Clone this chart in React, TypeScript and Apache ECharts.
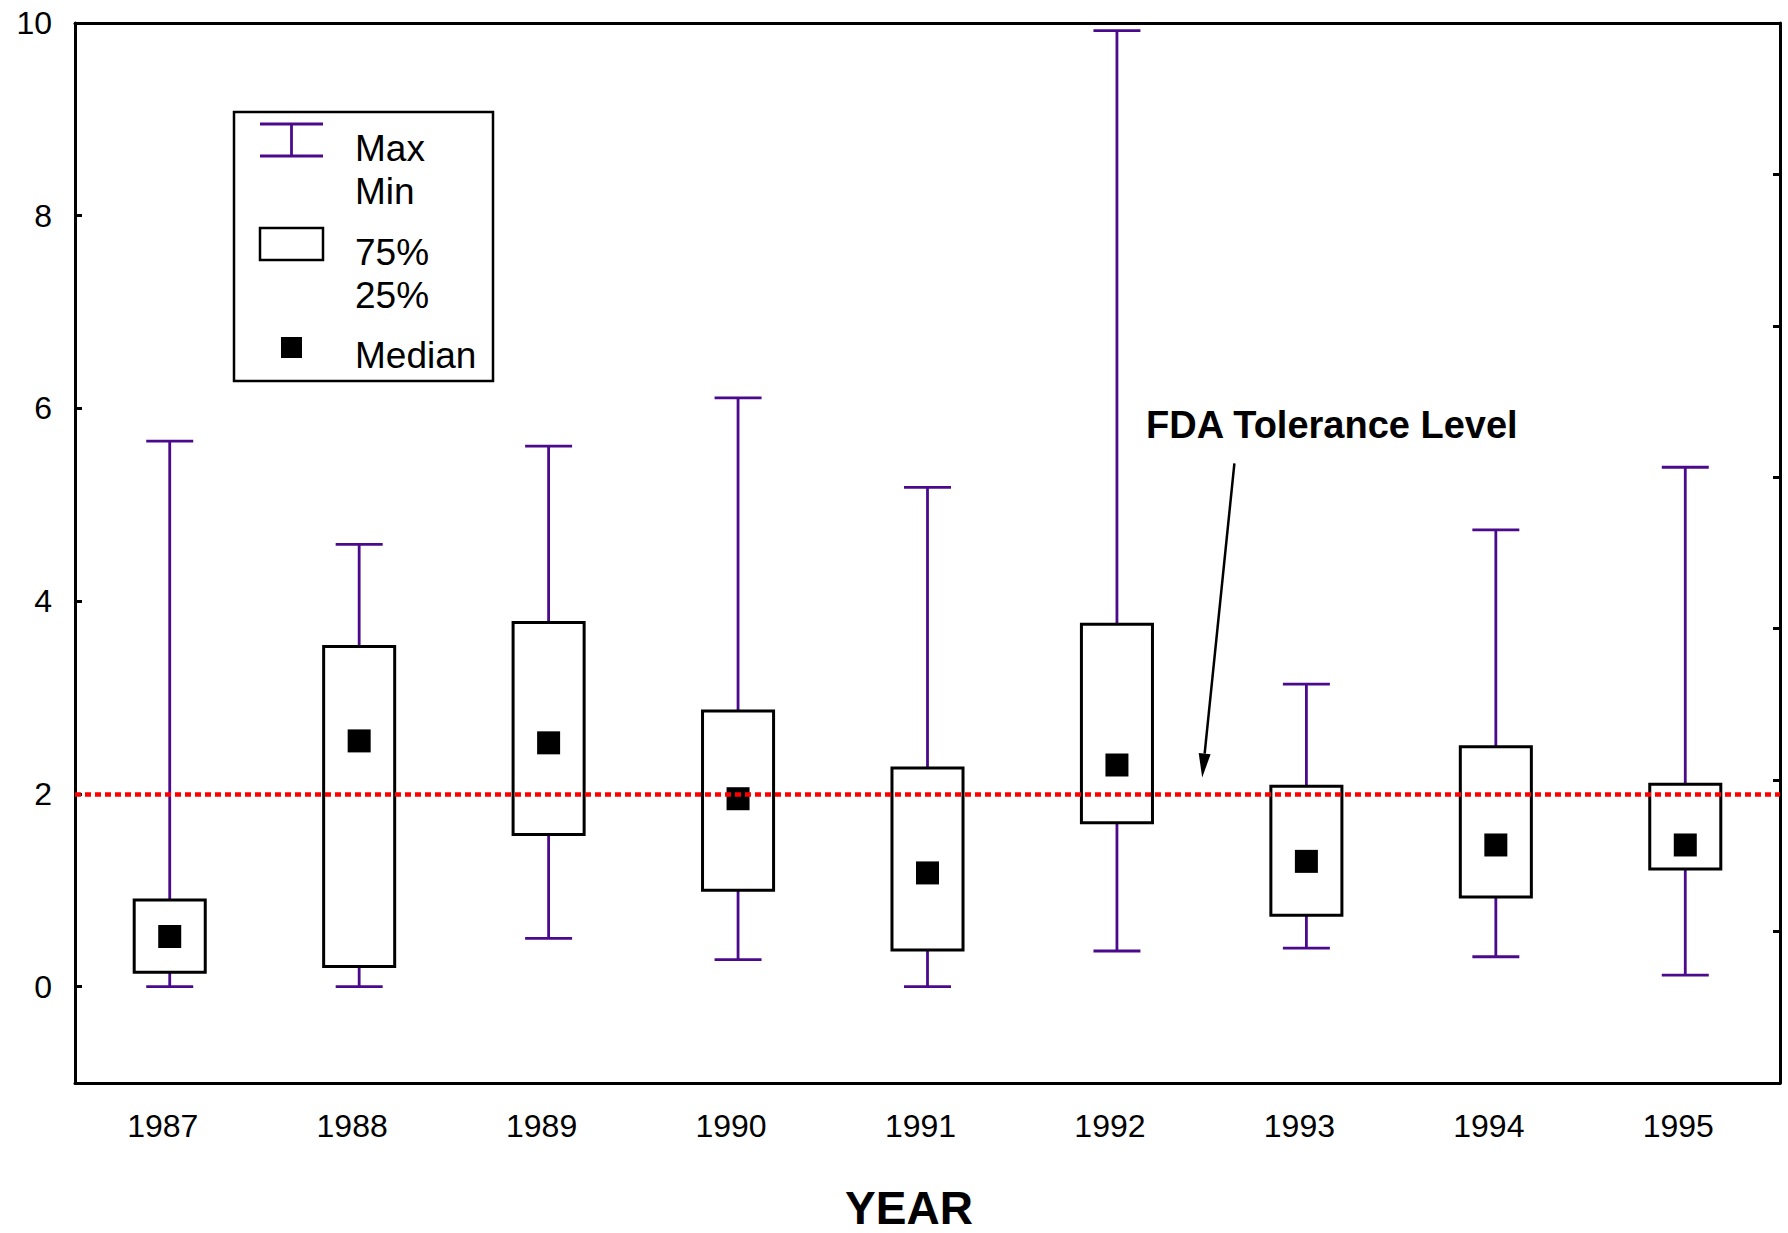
import React, { useEffect, useRef } from "react";
import * as echarts from "echarts";

const years = ["1987", "1988", "1989", "1990", "1991", "1992", "1993", "1994", "1995"];
const minVals = [0, 0, 0.5, 0.28, 0, 0.37, 0.4, 0.31, 0.12];
const q1Vals = [0.15, 0.21, 1.58, 1.0, 0.38, 1.7, 0.74, 0.93, 1.22];
const medianVals = [0.52, 2.55, 2.53, 1.95, 1.18, 2.3, 1.3, 1.47, 1.47];
const q3Vals = [0.9, 3.53, 3.78, 2.86, 2.27, 3.76, 2.08, 2.49, 2.1];
const maxVals = [5.66, 4.59, 5.61, 6.11, 5.18, 9.92, 3.14, 4.74, 5.39];
const yTickValues = [0, 2, 4, 6, 8, 10];
const toleranceLevel = 2;
const arrowFrom = [5.62, 5.43];
const arrowTo = [5.45, 2.17];

const FONT = "'Liberation Sans', Arial, sans-serif";
const PURPLE = "#4B0A8C";

export default function App() {
  const ref = useRef<HTMLDivElement>(null);
  useEffect(() => {
    if (!ref.current) return;
    const chart = echarts.init(ref.current, undefined, { renderer: "svg" });
    const boxData = years.map((_, i) => [i, minVals[i], q1Vals[i], medianVals[i], q3Vals[i], maxVals[i]]);

    const txt = (x: number, y: number, text: string, extra: any = {}) => ({
      type: "text",
      x,
      y,
      z: 11,
      style: { text, fontSize: 37, fontFamily: FONT, fill: "#000", verticalAlign: "middle", ...extra },
    });

    const option: any = {
      animation: false,
      backgroundColor: "#fff",
      grid: { left: 75, right: 8, top: 23, bottom: 150, containLabel: false },
      xAxis: [
        {
          type: "category",
          data: years,
          boundaryGap: true,
          axisLine: { show: true, onZero: false, lineStyle: { color: "#000", width: 3 } },
          axisTick: { show: false },
          axisLabel: { color: "#000", fontSize: 32, fontFamily: FONT, margin: 27, padding: [0, 14, 0, 0] },
          splitLine: { show: false },
        },
        {
          type: "value",
          position: "top",
          min: -0.5,
          max: 8.5,
          axisLine: { show: true, onZero: false, lineStyle: { color: "#000", width: 3 } },
          axisTick: { show: false },
          axisLabel: { show: false },
          splitLine: { show: false },
        },
      ],
      yAxis: [
        {
          type: "value",
          min: -1,
          max: 10,
          interval: 1,
          axisLine: { show: true, onZero: false, lineStyle: { color: "#000", width: 3 } },
          axisTick: { show: true, inside: true, length: 7, customValues: yTickValues, lineStyle: { color: "#000", width: 3 } },
          axisLabel: { color: "#000", fontSize: 32, fontFamily: FONT, margin: 23, customValues: yTickValues },
          splitLine: { show: false },
        },
        {
          type: "value",
          position: "right",
          min: 0,
          max: 7,
          interval: 1,
          axisLine: { show: true, onZero: false, lineStyle: { color: "#000", width: 3 } },
          axisTick: { show: true, inside: true, length: 7, lineStyle: { color: "#000", width: 3 } },
          axisLabel: { show: false },
          splitLine: { show: false },
        },
      ],
      series: [
        {
          type: "custom",
          xAxisIndex: 0,
          yAxisIndex: 0,
          z: 2,
          encode: { x: 0, y: [1, 2, 3, 4, 5] },
          data: boxData,
          renderItem: (params: any, api: any) => {
            const idx = api.value(0);
            const vMin = api.value(1);
            const vQ1 = api.value(2);
            const vMed = api.value(3);
            const vQ3 = api.value(4);
            const vMax = api.value(5);
            const band = api.size([1, 0])[0];
            const boxW = band * 0.375;
            const capW = band * 0.248;
            const medS = 23;
            const pMin = api.coord([idx, vMin]);
            const pQ1 = api.coord([idx, vQ1]);
            const pMed = api.coord([idx, vMed]);
            const pQ3 = api.coord([idx, vQ3]);
            const pMax = api.coord([idx, vMax]);
            const cx = pMed[0];
            const ws = { stroke: PURPLE, lineWidth: 2.8, fill: null };
            return {
              type: "group",
              children: [
                { type: "line", shape: { x1: cx, y1: pMin[1], x2: cx, y2: pQ1[1] }, style: ws },
                { type: "line", shape: { x1: cx, y1: pQ3[1], x2: cx, y2: pMax[1] }, style: ws },
                { type: "line", shape: { x1: cx - capW / 2, y1: pMin[1], x2: cx + capW / 2, y2: pMin[1] }, style: ws },
                { type: "line", shape: { x1: cx - capW / 2, y1: pMax[1], x2: cx + capW / 2, y2: pMax[1] }, style: ws },
                {
                  type: "rect",
                  shape: { x: cx - boxW / 2, y: pQ3[1], width: boxW, height: pQ1[1] - pQ3[1] },
                  style: { fill: "#fff", stroke: "#000", lineWidth: 3 },
                },
                {
                  type: "rect",
                  shape: { x: cx - medS / 2, y: pMed[1] - medS / 2, width: medS, height: medS },
                  style: { fill: "#000", stroke: null },
                },
              ],
            };
          },
        },
        {
          type: "custom",
          xAxisIndex: 1,
          yAxisIndex: 0,
          z: 4,
          data: [[arrowFrom[0], arrowFrom[1], arrowTo[0], arrowTo[1]]],
          encode: { x: [0, 2], y: [1, 3] },
          renderItem: (params: any, api: any) => {
            const p1 = api.coord([api.value(0), api.value(1)]);
            const p2 = api.coord([api.value(2), api.value(3)]);
            const dx = p2[0] - p1[0];
            const dy = p2[1] - p1[1];
            const len = Math.sqrt(dx * dx + dy * dy);
            const ux = dx / len;
            const uy = dy / len;
            const headL = 24;
            const headW = 6;
            const bx = p2[0] - ux * headL;
            const by = p2[1] - uy * headL;
            const nx = -uy;
            const ny = ux;
            return {
              type: "group",
              children: [
                { type: "line", shape: { x1: p1[0], y1: p1[1], x2: bx, y2: by }, style: { stroke: "#000", lineWidth: 2.5 } },
                {
                  type: "polygon",
                  shape: {
                    points: [
                      [p2[0], p2[1]],
                      [bx + nx * headW, by + ny * headW],
                      [bx - nx * headW, by - ny * headW],
                    ],
                  },
                  style: { fill: "#000" },
                },
              ],
            };
          },
        },
        {
          type: "line",
          xAxisIndex: 0,
          yAxisIndex: 0,
          z: 5,
          data: [],
          markLine: {
            silent: true,
            symbol: ["none", "none"],
            label: { show: false },
            lineStyle: { color: "#FF0000", width: 4.5, type: [6, 4], cap: "butt" },
            data: [{ yAxis: toleranceLevel }],
          },
        },
      ],
      graphic: [
        { type: "rect", shape: { x: 234, y: 112, width: 259, height: 269 }, style: { fill: "#fff", stroke: "#000", lineWidth: 2.5 }, z: 10 },
        { type: "line", shape: { x1: 260, y1: 124, x2: 323, y2: 124 }, style: { stroke: PURPLE, lineWidth: 2.8 }, z: 11 },
        { type: "line", shape: { x1: 260, y1: 156, x2: 323, y2: 156 }, style: { stroke: PURPLE, lineWidth: 2.8 }, z: 11 },
        { type: "line", shape: { x1: 291.5, y1: 124, x2: 291.5, y2: 156 }, style: { stroke: PURPLE, lineWidth: 2.8 }, z: 11 },
        { type: "rect", shape: { x: 260, y: 228, width: 63, height: 32 }, style: { fill: "#fff", stroke: "#000", lineWidth: 2.5 }, z: 11 },
        { type: "rect", shape: { x: 281, y: 337, width: 21, height: 21 }, style: { fill: "#000" }, z: 11 },
        txt(355, 148, "Max"),
        txt(355, 191, "Min"),
        txt(355, 252, "75%"),
        txt(355, 295, "25%"),
        txt(355, 355, "Median"),
        txt(1146, 425, "FDA Tolerance Level", { fontWeight: "bold", fontSize: 38 }),
        txt(909, 1208, "YEAR", { fontWeight: "bold", fontSize: 46, align: "center" }),
      ],
    };
    chart.setOption(option);
    return () => chart.dispose();
  }, []);
  return <div ref={ref} style={{ position: "fixed", left: 0, top: 0, width: 1788, height: 1233, background: "#fff" }} />;
}
